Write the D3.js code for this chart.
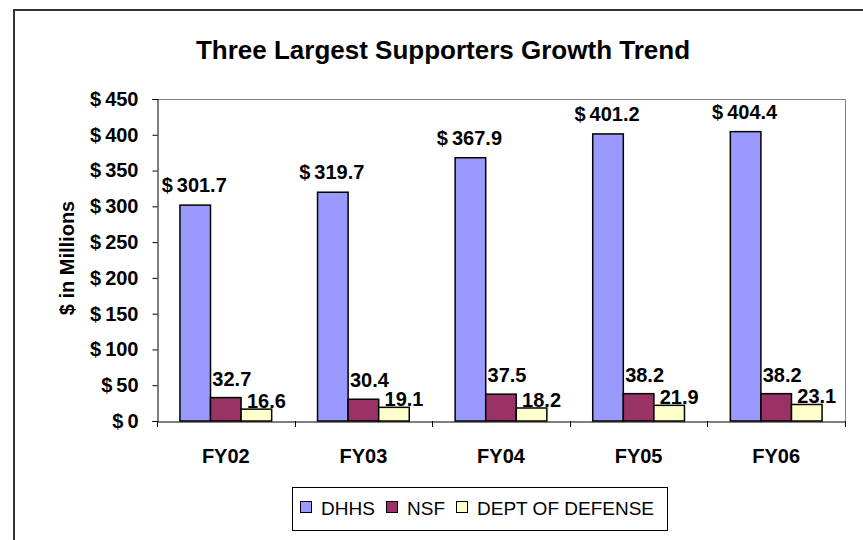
<!DOCTYPE html>
<html>
<head>
<meta charset="utf-8">
<script src="https://cdn.jsdelivr.net/npm/d3@7"></script>
<style>
  body { margin: 0; background: #fff; }
  text { font-family: Arial, "Liberation Sans", sans-serif; }
</style>
</head>
<body>
<div id="chart"></div>
<script>
// ---- data ----
const years = ['FY02', 'FY03', 'FY04', 'FY05', 'FY06'];
const seriesNames = ['DHHS', 'NSF', 'DEPT OF DEFENSE'];
const dhhs = [301.7, 319.7, 367.9, 401.2, 404.4];
const nsf = [32.7, 30.4, 37.5, 38.2, 38.2];
const dod = [16.6, 19.1, 18.2, 21.9, 23.1];
const yTicks = [0, 50, 100, 150, 200, 250, 300, 350, 400, 450];
const colors = ['#9999FF', '#993366', '#FFFFCC'];

const values = [dhhs, nsf, dod];

const width = 863, height = 540;
const svg = d3.select('#chart').append('svg')
    .attr('width', width)
    .attr('height', height);

// outer chart border
svg.append('rect')
    .attr('x', 14).attr('y', 10)
    .attr('width', 900).attr('height', 600)
    .attr('fill', 'none')
    .attr('stroke', '#333')
    .attr('stroke-width', 2);

const plot = { left: 157, right: 845, top: 99, bottom: 421 };

const x = d3.scaleBand()
    .domain(years)
    .range([plot.left, plot.right]);

const xInner = d3.scaleBand()
    .domain(seriesNames)
    .range([0, x.bandwidth()])
    .paddingInner(0)
    .paddingOuter(0.75);

const y = d3.scaleLinear()
    .domain([0, 450])
    .range([plot.bottom, plot.top]);

// plot frame (top and right in gray)
svg.append('path')
    .attr('d', `M${plot.left},${plot.top + 0.5}H${plot.right + 0.5}V${plot.bottom}`)
    .attr('fill', 'none')
    .attr('stroke', '#808080');

// y axis
const yAxis = svg.append('g')
    .attr('transform', `translate(${plot.left + 0.5},0)`)
    .call(d3.axisLeft(y).tickValues(yTicks).tickSize(5).tickPadding(14)
        .tickFormat(d => '$\u2009' + d));
yAxis.select('.domain').attr('stroke', '#000');
yAxis.selectAll('.tick line').attr('stroke', '#000');
yAxis.selectAll('text')
    .attr('font-size', 20)
    .attr('font-weight', 'bold')
    .attr('fill', '#000')
    .attr('font-family', 'Arial, "Liberation Sans", sans-serif');

// x axis
const xAxis = svg.append('g')
    .attr('transform', `translate(0,${plot.bottom + 0.5})`)
    .call(d3.axisBottom(x).tickSize(0).tickPadding(27));
xAxis.select('.domain').attr('stroke', '#000');
xAxis.selectAll('text')
    .attr('font-size', 20)
    .attr('font-weight', 'bold')
    .attr('fill', '#000')
    .attr('font-family', 'Arial, "Liberation Sans", sans-serif');

// x tick marks between categories
svg.selectAll('.xsep')
    .data(years.concat(['end']))
    .enter()
    .append('line')
    .attr('class', 'xsep')
    .attr('x1', (d, i) => Math.round(plot.left + i * x.step()) + 0.5)
    .attr('x2', (d, i) => Math.round(plot.left + i * x.step()) + 0.5)
    .attr('y1', plot.bottom)
    .attr('y2', plot.bottom + 6)
    .attr('stroke', '#000');

// bars
const groups = svg.selectAll('.year')
    .data(years)
    .enter()
    .append('g')
    .attr('class', 'year')
    .attr('transform', d => `translate(${x(d)},0)`);

seriesNames.forEach((name, s) => {
    groups.append('rect')
        .attr('x', (d, i) => xInner(name))
        .attr('y', (d, i) => y(values[s][i]))
        .attr('width', xInner.bandwidth())
        .attr('height', (d, i) => plot.bottom - y(values[s][i]))
        .attr('fill', colors[s])
        .attr('stroke', '#000')
        .attr('stroke-width', 1.5);
});

// value labels
const labelGap = [13, 12, 1];
const labelShift = [-1, 6, 10];
seriesNames.forEach((name, s) => {
    groups.append('text')
        .attr('x', (d, i) => xInner(name) + xInner.bandwidth() / 2 + labelShift[s])
        .attr('y', (d, i) => y(values[s][i]) - labelGap[s])
        .attr('text-anchor', 'middle')
        .attr('font-size', 20)
        .attr('font-weight', 'bold')
        .text((d, i) => (s === 0 ? '$\u2009' : '') + values[s][i].toFixed(1));
});

// title
svg.append('text')
    .attr('x', 443)
    .attr('y', 59)
    .attr('text-anchor', 'middle')
    .attr('font-size', 26)
    .attr('font-weight', 'bold')
    .text('Three Largest Supporters Growth Trend');

// y axis title
svg.append('text')
    .attr('transform', `translate(74,${(plot.top + plot.bottom) / 2 - 2}) rotate(-90)`)
    .attr('text-anchor', 'middle')
    .attr('font-size', 20)
    .attr('font-weight', 'bold')
    .text('$ in Millions');

// legend
const legend = svg.append('g');
legend.append('rect')
    .attr('x', 292.5).attr('y', 487.5)
    .attr('width', 375).attr('height', 43)
    .attr('fill', '#fff')
    .attr('stroke', '#000');

const legendX = [300, 386, 456];
seriesNames.forEach((name, s) => {
    legend.append('rect')
        .attr('x', legendX[s] + 0.5).attr('y', 501.5)
        .attr('width', 11).attr('height', 11)
        .attr('fill', colors[s])
        .attr('stroke', '#000');
    legend.append('text')
        .attr('x', legendX[s] + 21)
        .attr('y', 515)
        .attr('font-size', 19)
        .text(name);
});
</script>
</body>
</html>
